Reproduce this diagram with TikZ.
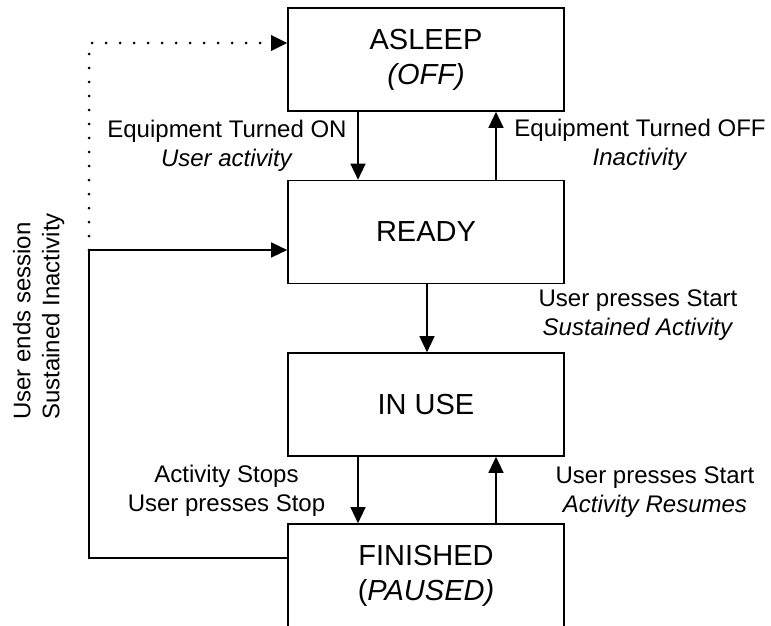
\documentclass[tikz,border=0pt]{standalone}
\usepackage{fontspec}
\setmainfont{Liberation Sans}
\usetikzlibrary{arrows.meta}
\begin{document}
\begin{tikzpicture}[x=1pt,y=-1pt,
  state/.style={draw, line width=1.6pt, minimum width=276pt, minimum height=103pt,
    inner sep=0pt, align=center, font=\fontsize{29}{35}\selectfont},
  lbl/.style={align=center, inner sep=0pt, font=\fontsize{24}{29}\selectfont},
  tip/.style={-{Triangle[length=16pt,width=15pt]}},
  arr/.style={line width=1.3pt, tip},
  dots/.style={line width=3pt, dash pattern=on 0pt off 14pt, line cap=round, tip}]
\clip (0,0) rectangle (771,626);
\node[state] (asleep) at (426,59.5) {ASLEEP\\\textit{(OFF)}};
\node[state] (ready) at (426,232) {READY};
\node[state] (inuse) at (426,404.5) {IN USE};
\node[state] (fin) at (426,575.5) {FINISHED\\(\textit{PAUSED)}};
\coordinate (lx) at (358,0);
\coordinate (rx) at (496,0);
\coordinate (mx) at (427,0);
\coordinate (lbot) at (89,558);
\coordinate (lcorner) at (89,250);
\coordinate (dtop) at (89,43);
\draw[arr] (asleep.south -| lx) -- (ready.north -| lx);
\draw[arr] (ready.north -| rx) -- (asleep.south -| rx);
\draw[arr] (ready.south -| mx) -- (inuse.north -| mx);
\draw[arr] (inuse.south -| lx) -- (fin.north -| lx);
\draw[arr] (fin.north -| rx) -- (inuse.south -| rx);
\draw[arr] (fin.west |- lbot) -- (lbot) -- (lcorner) -- (ready.west |- lcorner);
\draw[dots] (lcorner) -- (dtop) -- (asleep.west |- dtop);
\node[lbl] (eon) at (227,146) {Equipment Turned ON\\\textit{User activity}};
\node[lbl] (eoff) at (640,145) {Equipment Turned OFF\\\textit{Inactivity}};
\node[lbl] (ups1) at (638,315) {User presses Start\\\textit{Sustained Activity}};
\node[lbl] (stop) at (226.5,491) {Activity Stops\\User presses Stop};
\node[lbl] (ups2) at (655,492) {User presses Start\\\textit{Activity Resumes}};
\node[lbl, rotate=90, align=left] (ses) at (38.6,316.5) {User ends session\\Sustained Inactivity};
\end{tikzpicture}
\end{document}
